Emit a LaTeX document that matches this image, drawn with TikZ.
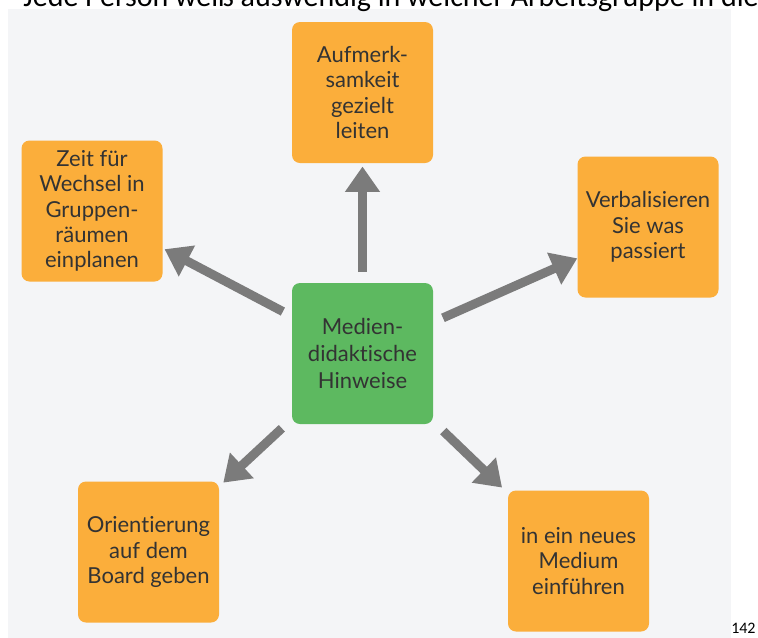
\documentclass[tikz,border=0pt]{standalone}
\usepackage{fontspec}
\setmainfont{Lato}[Ligatures={NoCommon}]
\newfontfamily\calib{Carlito}
\usetikzlibrary{arrows.meta}
\definecolor{panelbg}{HTML}{F4F5F7}
\definecolor{boxorange}{HTML}{FBAE3B}
\definecolor{boxgreen}{HTML}{5DB960}
\definecolor{arrowgray}{HTML}{7B7B7B}
\definecolor{txtgray}{HTML}{333333}
\tikzset{
  card/.style={rounded corners=6pt, minimum width=105.75pt, minimum height=105.75pt,
    inner sep=0pt, align=center, text=txtgray, font=\fontsize{16.5}{19}\selectfont},
  orangecard/.style={card, fill=boxorange},
  greencard/.style={card, fill=boxgreen, font=\fontsize{16.5}{20}\selectfont},
  bigarrow/.style={draw=arrowgray, line width=6.75pt,
    -{Triangle[length=19pt, width=25pt]}}
}
\begin{document}
\begin{tikzpicture}[x=0.75pt, y=-0.75pt]
\useasboundingbox (0,0) rectangle (758,637);
\begin{scope}
\clip (0,0) rectangle (758,637);
\fill[panelbg] (8,9) rectangle (731,640);
\node[anchor=base west, inner sep=0pt, font=\calib\fontsize{22.5}{26}\selectfont, text=black] (head) at (23,6) {Jede Person weiß auswendig in welcher Arbeitsgruppe in dieser};
\end{scope}
\node[anchor=base west, inner sep=0pt, font=\calib\fontsize{12}{14}\selectfont, text=black] (pagenum) at (731,633) {142};

\node[greencard]  (c)  at (362.5,353.5) {Medien-\\didaktische\\Hinweise};
\node[orangecard] (t)  at (362.5,92.5)  {Aufmerk-\\samkeit\\gezielt\\leiten};
\node[orangecard] (r)  at (648,227)     {Verbalisieren\\Sie was\\passiert};
\node[orangecard] (l)  at (92,211)      {Zeit für\\Wechsel in\\Gruppen-\\räumen\\einplanen};
\node[orangecard] (bl) at (148.5,552)   {Orientierung\\auf dem\\Board geben};
\node[orangecard] (br) at (578.5,561)   {in ein neues\\Medium\\einführen};

\draw[bigarrow, shorten <=61pt, shorten >=55.5pt] (c.center) -- (t.center);
\draw[bigarrow, shorten <=67.5pt, shorten >=61.5pt] (c.center) -- (l.center);
\draw[bigarrow, shorten <=66pt, shorten >=58pt] (c.center) -- (r.center);
\draw[bigarrow, shorten <=82.5pt, shorten >=76.5pt] (c.center) -- (bl.center);
\draw[bigarrow, shorten <=84pt, shorten >=79.5pt] (c.center) -- (br.center);
\end{tikzpicture}
\end{document}
